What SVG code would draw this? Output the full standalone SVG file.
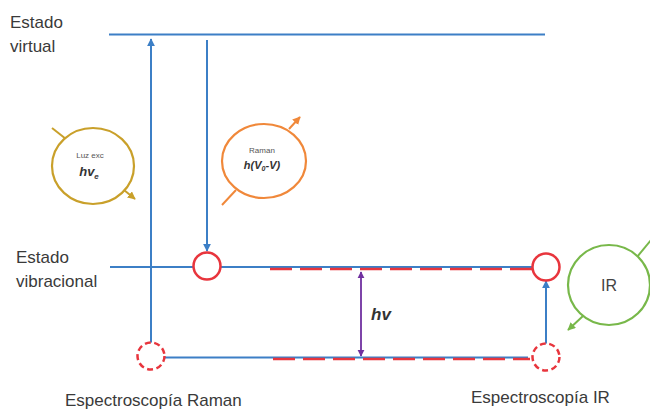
<svg xmlns="http://www.w3.org/2000/svg" width="650" height="411" viewBox="0 0 650 411">
<defs>
<style>
.lbl{font-family:"Liberation Sans",Arial,sans-serif;font-size:17px;fill:#3a3a3a}
.lvl{stroke:#3c7fc6;stroke-width:2;fill:none}
.red{stroke:#e8353d;stroke-width:2.5;fill:#fff}
.reddash{stroke:#e8353d;stroke-width:2.5;fill:none;stroke-dasharray:22 8}
.redc{stroke:#e8353d;stroke-width:2.5;fill:#fff;stroke-dasharray:6 3.5}
.tr{stroke:#3c7fc6;stroke-width:2;fill:none}
.small{font-family:"Liberation Sans",Arial,sans-serif;font-size:8px;fill:#555;text-anchor:middle}
.bi{font-family:"Liberation Sans",Arial,sans-serif;font-weight:bold;font-style:italic;fill:#333;text-anchor:middle}
</style>
<marker id="ab" viewBox="0 0 10 10" refX="9" refY="5" markerWidth="4" markerHeight="4" orient="auto-start-reverse"><path d="M0,0 L10,5 L0,10 z" fill="#3c7fc6"/></marker>
<marker id="ap" viewBox="0 0 10 10" refX="9" refY="5" markerWidth="4" markerHeight="4" orient="auto-start-reverse"><path d="M0,0 L10,5 L0,10 z" fill="#7030a0"/></marker>
<marker id="ag" viewBox="0 0 10 10" refX="9" refY="5" markerWidth="4" markerHeight="4" orient="auto"><path d="M0,0 L10,5 L0,10 z" fill="#c9a02a"/></marker>
<marker id="ao" viewBox="0 0 10 10" refX="9" refY="5" markerWidth="4" markerHeight="4" orient="auto"><path d="M0,0 L10,5 L0,10 z" fill="#f0883a"/></marker>
<marker id="agr" viewBox="0 0 10 10" refX="9" refY="5" markerWidth="4" markerHeight="4" orient="auto"><path d="M0,0 L10,5 L0,10 z" fill="#78b84a"/></marker>
</defs>
<rect width="650" height="411" fill="#fff"/>

<g id="labels">
<text class="lbl" x="10" y="28">Estado</text>
<text class="lbl" x="10" y="52">virtual</text>
<text class="lbl" x="16" y="263">Estado</text>
<text class="lbl" x="16" y="287">vibracional</text>
<text class="lbl" x="65" y="406">Espectroscopía Raman</text>
<text class="lbl" x="471" y="403">Espectroscopía IR</text>
</g>

<g id="levels">
<line class="lvl" x1="109" y1="34.5" x2="545" y2="34.5"/>
<line class="lvl" x1="110" y1="267" x2="532" y2="267"/>
<line class="lvl" x1="164" y1="357.5" x2="528" y2="357.5"/>
<line class="reddash" x1="270" y1="269" x2="532" y2="269"/>
<line class="reddash" x1="273" y1="359" x2="530" y2="359"/>
</g>

<g id="connectors">
<line class="tr" x1="151" y1="343" x2="151" y2="39" marker-end="url(#ab)"/>
<line class="tr" x1="207" y1="40" x2="207" y2="251" marker-end="url(#ab)"/>
<line class="tr" x1="546" y1="344" x2="546" y2="281" marker-end="url(#ab)"/>
<line x1="361" y1="272" x2="361" y2="356" stroke="#7030a0" stroke-width="1.8" marker-start="url(#ap)" marker-end="url(#ap)"/>
</g>

<g id="raman-states">
<circle class="red" cx="207" cy="266" r="13.5"/>
<circle class="redc" cx="151" cy="356" r="13.5"/>
</g>
<g id="ir-states">
<circle class="red" cx="546" cy="267" r="13.5"/>
<circle class="redc" cx="546" cy="357" r="13.5"/>
</g>

<text id="hv" class="bi" x="381" y="320" font-size="17">hv</text>

<g id="luz-exc">
<line x1="52" y1="128" x2="66" y2="139" stroke="#c9a02a" stroke-width="2"/>
<ellipse cx="93" cy="166" rx="41" ry="38" fill="#fff" stroke="#c9a02a" stroke-width="2.2"/>
<line x1="124" y1="190" x2="135" y2="199" stroke="#c9a02a" stroke-width="2" marker-end="url(#ag)"/>
<text class="small" x="90" y="158">Luz exc</text>
<text class="bi" x="89" y="176" font-size="13">hv<tspan font-size="8" dy="3">e</tspan></text>
</g>

<g id="raman">
<line x1="222" y1="205" x2="236" y2="190" stroke="#f0883a" stroke-width="2"/>
<ellipse cx="264" cy="161" rx="42" ry="37" fill="#fff" stroke="#f0883a" stroke-width="2.2"/>
<line x1="289" y1="129" x2="300" y2="117" stroke="#f0883a" stroke-width="2" marker-end="url(#ao)"/>
<text class="small" x="262" y="153">Raman</text>
<text class="bi" x="262" y="169" font-size="11">h(V<tspan font-size="7" dy="2">0</tspan><tspan dy="-2">-V)</tspan></text>
</g>

<g id="ir">
<line x1="651" y1="240" x2="637" y2="257" stroke="#78b84a" stroke-width="2"/>
<ellipse cx="609" cy="285" rx="41" ry="40" fill="#fff" stroke="#78b84a" stroke-width="2.2"/>
<line x1="583" y1="316" x2="568" y2="330" stroke="#78b84a" stroke-width="2" marker-end="url(#agr)"/>
<text x="609" y="291" font-family="Liberation Sans, Arial, sans-serif" font-size="16" fill="#444" text-anchor="middle">IR</text>
</g>
</svg>
